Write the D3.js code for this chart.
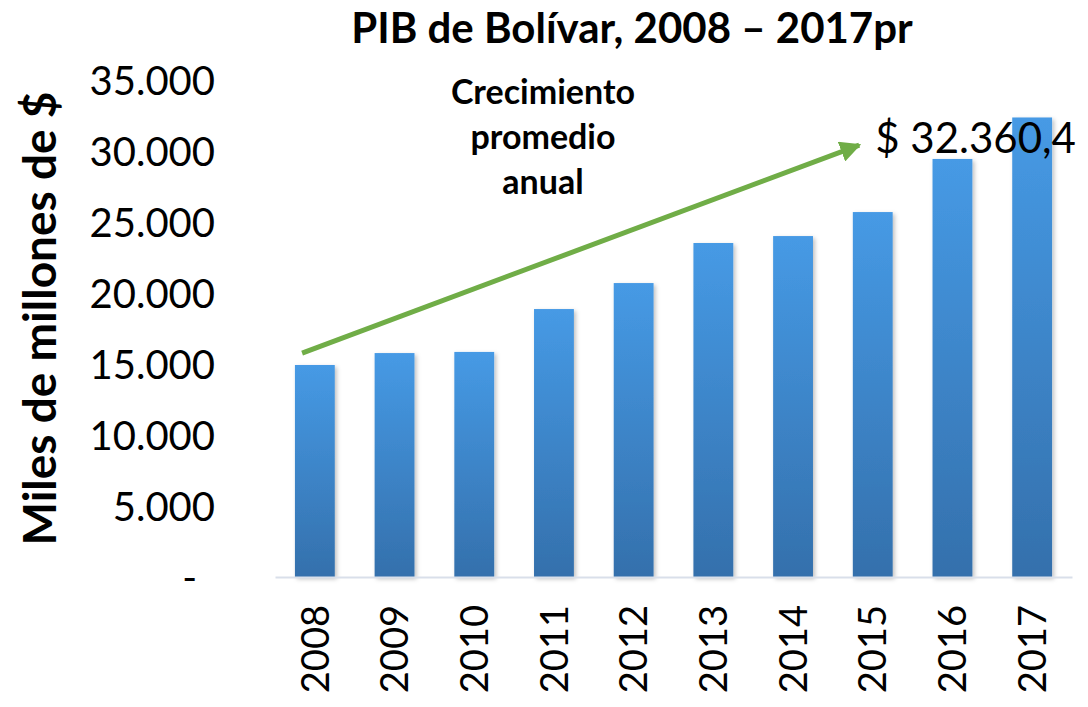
<!DOCTYPE html>
<html>
<head>
<meta charset="utf-8">
<script src="https://cdn.jsdelivr.net/npm/d3@7"></script>
<style>
  body { margin: 0; background: #fff; }
  svg text { font-family: Lato, "Open Sans", sans-serif; fill: #000; }
</style>
</head>
<body>
<div id="chart"></div>
<script>
// PIB de Bolívar, miles de millones de pesos
const years = ["2008", "2009", "2010", "2011", "2012", "2013", "2014", "2015", "2016", "2017"];
const pib = [14930, 15770, 15850, 18870, 20700, 23520, 24010, 25700, 29440, 32360.4];
const yTicks = [0, 5000, 10000, 15000, 20000, 25000, 30000, 35000];

const title = "PIB de Bolívar, 2008 – 2017pr";
const yTitle = "Miles de millones de $";
const noteLines = ["Crecimiento", "promedio", "anual"];

// growth arrow, in data terms (year + fraction of a band step, value)
const arrowFrom = { year: "2008", shift: -0.16, value: 15770 };
const arrowTo = { year: "2015", shift: -0.17, value: 30420 };

var width = 1088, height = 707;
var margin = { top: 80, right: 16, bottom: 130, left: 275 };

var es = d3.formatLocale({ decimal: ",", thousands: ".", grouping: [3], currency: ["$ ", ""] });

var svg = d3.select("#chart")
  .append("svg")
    .attr("width", width)
    .attr("height", height);

var defs = svg.append("defs");
var grad = defs.append("linearGradient")
  .attr("id", "barGrad")
  .attr("x1", 0).attr("y1", 0).attr("x2", 0).attr("y2", 1);
grad.append("stop").attr("offset", "0%").attr("stop-color", "#469AE5");
grad.append("stop").attr("offset", "100%").attr("stop-color", "#3470AC");

var shadow = defs.append("filter")
  .attr("id", "shadow")
  .attr("x", "-20%").attr("y", "-5%").attr("width", "150%").attr("height", "115%");
shadow.append("feDropShadow")
  .attr("dx", 2).attr("dy", 2).attr("stdDeviation", 2)
  .attr("flood-color", "#000").attr("flood-opacity", 0.25);

defs.append("marker")
  .attr("id", "arrowHead")
  .attr("viewBox", "0 0 10 10")
  .attr("refX", 9).attr("refY", 5)
  .attr("markerWidth", 4.2).attr("markerHeight", 4.2)
  .attr("orient", "auto")
  .append("path")
    .attr("d", "M0,0 L10,5 L0,10 Z")
    .attr("fill", "#70AD47");

var x = d3.scaleBand()
  .domain(years)
  .range([margin.left, width - margin.right])
  .paddingInner(0.5)
  .paddingOuter(0.25);

var y = d3.scaleLinear()
  .domain([0, 35000])
  .range([height - margin.bottom, margin.top]);

// bars
svg.append("g")
  .selectAll("rect")
  .data(pib)
  .enter()
  .append("rect")
    .attr("x", function(d, i) { return x(years[i]); })
    .attr("y", function(d) { return y(d); })
    .attr("width", x.bandwidth())
    .attr("height", function(d) { return y(0) - y(d); })
    .attr("fill", "url(#barGrad)")
    .attr("filter", "url(#shadow)");

// x axis
var xAxis = svg.append("g")
  .attr("transform", "translate(0," + y(0) + ")")
  .call(d3.axisBottom(x).tickSize(0).tickPadding(0));
xAxis.select(".domain").attr("stroke", "#D9DFEA").attr("stroke-width", 2);
xAxis.selectAll("text")
  .attr("transform", "rotate(-90)")
  .attr("text-anchor", "end")
  .attr("x", -28)
  .attr("y", 0)
  .attr("dy", "0.36em")
  .style("font-size", "38px");

// y axis
var yAxis = svg.append("g")
  .attr("transform", "translate(" + 215 + ",0)")
  .call(d3.axisLeft(y)
    .tickValues(yTicks)
    .tickSize(0)
    .tickPadding(0)
    .tickFormat(function(d) { return d === 0 ? "-" : es.format(",")(d); }));
yAxis.select(".domain").remove();
yAxis.selectAll("text")
  .attr("dy", "0.36em")
  .attr("dx", function(d) { return d === 0 ? -18 : 0; })
  .style("font-size", "40px");

// titles
svg.append("text")
  .attr("x", 632)
  .attr("y", 43)
  .attr("text-anchor", "middle")
  .style("font-size", "42px")
  .style("font-weight", "bold")
  .text(title);

svg.append("text")
  .attr("transform", "translate(56," + ((y(0) + y(35000)) / 2 - 10) + ") rotate(-90)")
  .attr("text-anchor", "middle")
  .style("font-size", "46px")
  .style("font-weight", "bold")
  .text(yTitle);

// growth arrow
function ax(p) { return x(p.year) + x.bandwidth() / 2 + p.shift * x.step(); }
svg.append("line")
  .attr("x1", ax(arrowFrom))
  .attr("y1", y(arrowFrom.value))
  .attr("x2", ax(arrowTo))
  .attr("y2", y(arrowTo.value))
  .attr("stroke", "#70AD47")
  .attr("stroke-width", 5)
  .attr("marker-end", "url(#arrowHead)");

svg.append("g")
  .selectAll("text")
  .data(noteLines)
  .enter()
  .append("text")
    .attr("x", x("2011") + x.bandwidth() / 2 - 11)
    .attr("y", function(d, i) { return 104 + i * 45; })
    .attr("text-anchor", "middle")
    .style("font-size", "34px")
    .style("font-weight", "bold")
    .text(function(d) { return d; });

// last value label
var last = pib[pib.length - 1];
svg.append("text")
  .attr("x", ax(arrowTo) + 16)
  .attr("y", 153)
  .style("font-size", "42px")
  .text(es.format("$,.1f")(last));
</script>
</body>
</html>
